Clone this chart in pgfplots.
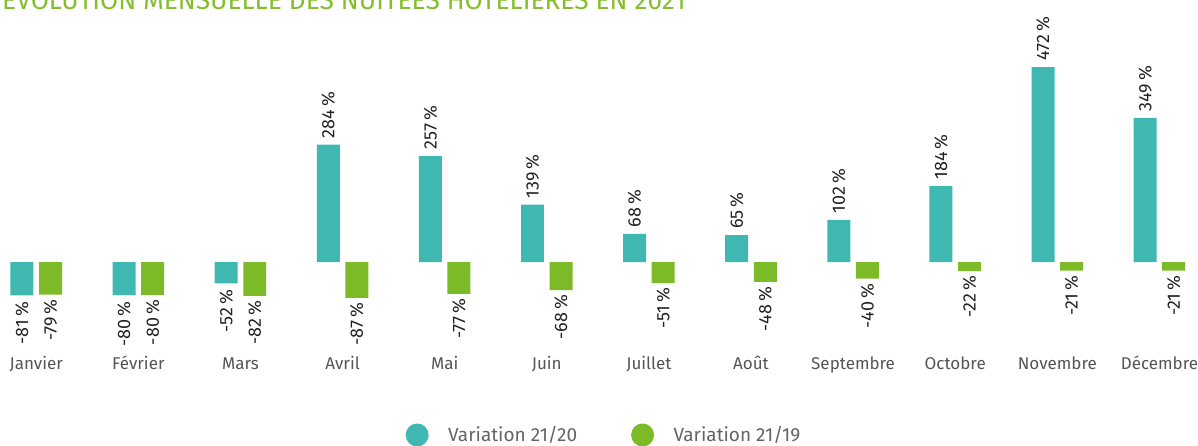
\documentclass[border=0pt]{standalone}
\usepackage{pgfplots}
\pgfplotsset{compat=1.18}
\usepackage{fontspec}
\setmainfont{Fira Sans}
\definecolor{teal1}{RGB}{62,184,176}
\definecolor{green1}{RGB}{125,186,40}
\definecolor{titlegreen}{RGB}{132,190,44}
\definecolor{lbl}{RGB}{35,35,35}
\definecolor{cat}{RGB}{85,85,85}
\definecolor{leg}{RGB}{100,100,100}
\begin{document}
\begin{tikzpicture}[x=1pt,y=1pt]
\begin{axis}[
  at={(0pt,89pt)}, anchor=south west,
  scale only axis, width=1198pt, height=356.8pt,
  xmin=-0.355, xmax=11.378, ymin=-230, ymax=634,
  clip=false,
  axis line style={draw=none},
  major tick length=0pt,
  ytick=\empty,
  xtick={0,...,11},
  xticklabels={Janvier,Février,Mars,Avril,Mai,Juin,Juillet,Août,Septembre,Octobre,Novembre,Décembre},
  xticklabel style={font=\fontsize{17}{20}\selectfont, text=cat, inner sep=0pt, anchor=base, yshift=-13pt},
  ybar, bar width=0.225,
  visualization depends on={rawy \as \rawy},
  nodes near coords={\pgfmathprintnumber[fixed,precision=0,assume math mode=true]{\pgfplotspointmeta}\,\%},
  every node near coord/.append style={rotate=90, anchor=\ifdim\rawy pt<0pt east\else west\fi, font=\fontsize{18}{20}\selectfont, text=lbl, inner sep=0pt, outer sep=0pt, xshift=\ifdim\rawy pt<0pt 1pt\else -1pt\fi},
  legend columns=2,
  legend style={at={(0.5,0)}, anchor=center, yshift=-78pt, xshift=5pt, draw=none, fill=none,
    font=\fontsize{19}{22}\selectfont, text=leg,
    /tikz/every even column/.append style={column sep=52pt}},
]
\addplot[fill=teal1, draw=none, bar shift=-0.14,
  every node near coord/.append style={inner xsep=7.5pt},
  legend image code/.code={\fill[teal1] (0pt,0pt) circle (11.5pt); \path (29pt,0pt);}]
  coordinates {(0,-81) (1,-80) (2,-52) (3,284) (4,257) (5,139) (6,68) (7,65) (8,102) (9,184) (10,472) (11,349)};
\addlegendentry{Variation 21/20}
\addplot[fill=green1, draw=none, bar shift=0.14,
  every node near coord/.append style={inner xsep=6pt},
  legend image code/.code={\fill[green1] (0pt,0pt) circle (11.5pt); \path (29pt,0pt);}]
  coordinates {(0,-79) (1,-80) (2,-82) (3,-87) (4,-77) (5,-68) (6,-51) (7,-48) (8,-40) (9,-22) (10,-21) (11,-21)};
\addlegendentry{Variation 21/19}
\end{axis}
\node[anchor=base west, inner sep=0pt, text=titlegreen, font=\fontsize{26.3}{30}\selectfont] at (2pt,436pt) {ÉVOLUTION MENSUELLE DES NUITÉES HÔTELIÈRES EN 2021};
\pgfresetboundingbox
\useasboundingbox (0,0) rectangle (1198pt,446pt);
\end{tikzpicture}
\end{document}
